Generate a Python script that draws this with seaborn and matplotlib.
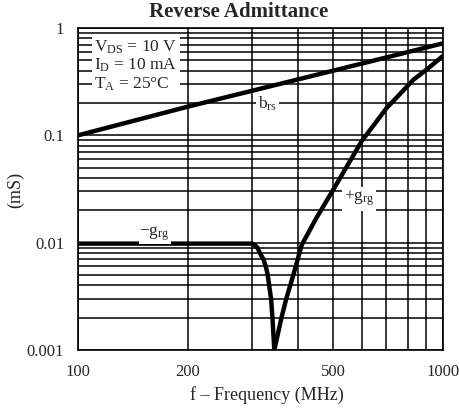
import matplotlib
matplotlib.use("Agg")
import matplotlib.pyplot as plt
import seaborn as sns
import pandas as pd
from matplotlib.ticker import FixedLocator, NullFormatter, LogLocator

# Data
brs_f = [100, 200, 500, 1000]
brs_v = [0.1, 0.185, 0.40, 0.72]
neg_grg_f = [100, 200, 300, 305, 310, 315, 322, 327, 331, 334, 338, 341, 345]
neg_grg_v = [0.0098, 0.0098, 0.0098, 0.0095, 0.009, 0.008, 0.007, 0.006,
             0.005, 0.004, 0.003, 0.002, 0.001]
pos_grg_f = [345, 361, 372, 389, 410, 450, 500, 550, 599, 650, 701, 760, 830, 910, 1000]
pos_grg_v = [0.001, 0.002, 0.003, 0.005, 0.0095, 0.017, 0.031, 0.054, 0.0885,
             0.128, 0.18, 0.24, 0.33, 0.42, 0.55]
x_ticks = [100, 200, 500, 1000]
x_tick_labels = ["100", "200", "500", "1000"]
y_ticks = [0.001, 0.01, 0.1, 1]
y_tick_labels = ["0.001", "0.01", "0.1", "1"]

sns.set_style("white")
plt.rcParams["font.family"] = ["Liberation Serif", "DejaVu Serif"]
plt.rcParams["mathtext.fontset"] = "custom"
plt.rcParams["mathtext.rm"] = "Liberation Serif"
plt.rcParams["mathtext.it"] = "Liberation Serif"

W, H = 459, 416
fig = plt.figure(figsize=(W / 100, H / 100), dpi=100)
ax = fig.add_axes([78 / W, 1 - 350 / H, 365 / W, 322 / H])

df_b = pd.DataFrame({"f": brs_f, "v": brs_v})
df_n = pd.DataFrame({"f": neg_grg_f, "v": neg_grg_v})
df_p = pd.DataFrame({"f": pos_grg_f, "v": pos_grg_v})

ax.set_xscale("log")
ax.set_yscale("log")
ax.set_xlim(100, 1000)
ax.set_ylim(0.001, 1)

for d in (df_b, df_n, df_p):
    sns.lineplot(data=d, x="f", y="v", ax=ax, color="black", lw=3.2,
                 solid_capstyle="butt", solid_joinstyle="round", zorder=3, sort=False)

ax.xaxis.set_major_locator(FixedLocator(x_ticks))
ax.set_xticklabels(x_tick_labels)
ax.xaxis.set_minor_locator(FixedLocator([300, 400, 600, 700, 800, 900]))
ax.xaxis.set_minor_formatter(NullFormatter())
ax.yaxis.set_major_locator(FixedLocator(y_ticks))
ax.set_yticklabels(y_tick_labels)
ax.yaxis.set_minor_locator(LogLocator(base=10, subs=range(2, 10)))
ax.yaxis.set_minor_formatter(NullFormatter())

ax.grid(which="both", color="black", lw=1.1)
ax.set_axisbelow(True)
ax.tick_params(which="both", length=0, labelsize=12, pad=10)
for s in ax.spines.values():
    s.set_color("black")
    s.set_linewidth(1.2)

ax.set_xlabel("")
ax.set_ylabel("")
fig.text(267 / W, 1 - 395 / H, "f – Frequency (MHz)", fontsize=13,
         ha="center", va="center")
fig.text(16 / W, 1 - 190 / H, "(mS)", fontsize=13, rotation=90,
         ha="center", va="center")
fig.text(239 / W, 1 - 12 / H, "Reverse Admittance", fontsize=15,
         fontweight="bold", ha="center", va="center")

ax.text(0.045, 0.968, "V$_{\\mathrm{DS}}$ = 10 V\nI$_{\\mathrm{D}}$ = 10 mA\nT$_{\\mathrm{A}}$ = 25°C",
        transform=ax.transAxes, fontsize=12.5, va="top", ha="left", linespacing=1.1,
        bbox=dict(facecolor="white", edgecolor="none", pad=2), zorder=4)
ax.text(0.52, 0.765, "b$_{\\mathrm{rs}}$", transform=ax.transAxes, fontsize=12.5,
        ha="center", va="center",
        bbox=dict(facecolor="white", edgecolor="none", pad=1.5), zorder=4)
ax.text(0.77, 0.47, "+g$_{\\mathrm{rg}}$", transform=ax.transAxes, fontsize=12.5,
        ha="center", va="center",
        bbox=dict(facecolor="white", edgecolor="none", pad=1.5), zorder=4)
ax.text(0.21, 0.36, "−g$_{\\mathrm{rg}}$", transform=ax.transAxes, fontsize=12.5,
        ha="center", va="center",
        bbox=dict(facecolor="white", edgecolor="none", pad=0.5), zorder=4)

fig.savefig("out.png", dpi=100)
